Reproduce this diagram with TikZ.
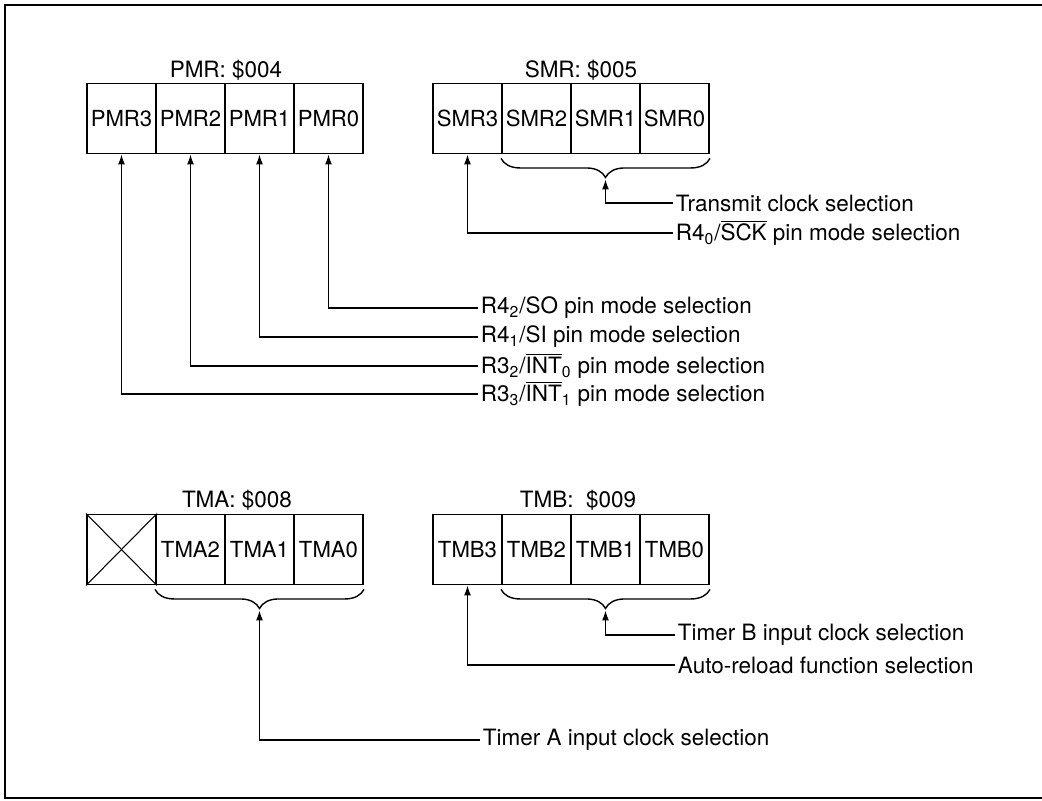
\documentclass[tikz,border=0pt]{standalone}
\usepackage{fontspec}
\setmainfont{TeX Gyre Heros}
\usetikzlibrary{arrows.meta,calc,decorations.pathreplacing}

\newcommand{\barsig}[1]{$\overline{\mbox{#1}}$}

\tikzset{
	reg/.style={shape=rectangle,draw=black,line width=1.1pt,minimum width=1.38cm,minimum height=1.4cm,inner sep=0pt,font=\fontsize{12.6}{15}\selectfont},
	ttl/.style={font=\fontsize{12.8}{15}\selectfont},
	lbl/.style={anchor=west,inner sep=1.5pt,font=\fontsize{12.8}{15}\selectfont},
	arr/.style={-{Latex[length=0.2cm,width=0.14cm]},line width=0.8pt},
	grp/.style={decorate,decoration={brace,mirror,amplitude=0.38cm},line width=0.8pt}
}

\begin{document}
\begin{tikzpicture}[x=0.02cm,y=-0.02cm]
	\useasboundingbox (0,0) rectangle (1042,801);
	\draw[line width=1.1pt] (1042,5) -- (5,5) -- (5,798) -- (1042,798);
	
	\node[ttl] (pmr) at (226, 70) {PMR: \$004};
	\node[reg] (pmr3) at (121.5, 118.5) {PMR3};
	\node[reg] (pmr2) at (190.5, 118.5) {PMR2};
	\node[reg] (pmr1) at (259.5, 118.5) {PMR1};
	\node[reg] (pmr0) at (328.5, 118.5) {PMR0};
	
	\node[ttl] (smr) at (581, 70) {SMR: \$005};
	\node[reg] (smr3) at (467.5, 118.5) {SMR3};
	\node[reg] (smr2) at (536.5, 118.5) {SMR2};
	\node[reg] (smr1) at (605.5, 118.5) {SMR1};
	\node[reg] (smr0) at (674.5, 118.5) {SMR0};
	
	\node[lbl] (so)   at (478, 308) {R4\textsubscript{2}/SO pin mode selection};
	\node[lbl] (si)   at (478, 337) {R4\textsubscript{1}/SI pin mode selection};
	\node[lbl] (int0) at (478, 366) {R3\textsubscript{2}/\barsig{INT}\textsubscript{0} pin mode selection};
	\node[lbl] (int1) at (478, 394) {R3\textsubscript{3}/\barsig{INT}\textsubscript{1} pin mode selection};
	\node[lbl] (txclk) at (673, 203) {Transmit clock selection};
	\node[lbl] (sck)   at (673, 233) {R4\textsubscript{0}/\barsig{SCK} pin mode selection};
	
	\node[ttl] (tma) at (237, 500) {TMA: \$008};
	\node[reg] (tmax) at (121.5, 549.5) {};
	\node[reg] (tma2) at (190.5, 549.5) {TMA2};
	\node[reg] (tma1) at (259.5, 549.5) {TMA1};
	\node[reg] (tma0) at (328.5, 549.5) {TMA0};
	
	\node[ttl] (tmb) at (578, 500) {TMB:\ \ \$009};
	\node[reg] (tmb3) at (467.5, 549.5) {TMB3};
	\node[reg] (tmb2) at (536.5, 549.5) {TMB2};
	\node[reg] (tmb1) at (605.5, 549.5) {TMB1};
	\node[reg] (tmb0) at (674.5, 549.5) {TMB0};
	
	\node[lbl] (tmaclk) at (480, 740) {Timer A input clock selection};
	\node[lbl] (tmbclk) at (675, 635) {Timer B input clock selection};
	\node[lbl] (reload) at (675, 665) {Auto-reload function selection};
	
	\draw[line width=0.6pt] (tmax.north west) -- (tmax.south east);
	\draw[line width=0.6pt] (tmax.south west) -- (tmax.north east);
	
	\draw[grp] ($(smr2.south west)+(0,4)$) -- ($(smr0.south east)+(0,4)$);
	\draw[grp] ($(tma2.south west)+(0,4)$) -- ($(tma0.south east)+(0,4)$);
	\draw[grp] ($(tmb2.south west)+(0,4)$) -- ($(tmb0.south east)+(0,4)$);
	\coordinate (smrtip) at ($(smr1.south)+(0,25)$);
	\coordinate (tmatip) at ($(tma1.south)+(0,25)$);
	\coordinate (tmbtip) at ($(tmb1.south)+(0,25)$);
	
	\draw[arr] (so.west) -| (pmr0.south);
	\draw[arr] (si.west) -| (pmr1.south);
	\draw[arr] (int0.west) -| (pmr2.south);
	\draw[arr] (int1.west) -| (pmr3.south);
	\draw[arr] (txclk.west) -| (smrtip);
	\draw[arr] (sck.west) -| (smr3.south);
	\draw[arr] (tmaclk.west) -| (tmatip);
	\draw[arr] (tmbclk.west) -| (tmbtip);
	\draw[arr] (reload.west) -| (tmb3.south);

\end{tikzpicture}
\end{document}
